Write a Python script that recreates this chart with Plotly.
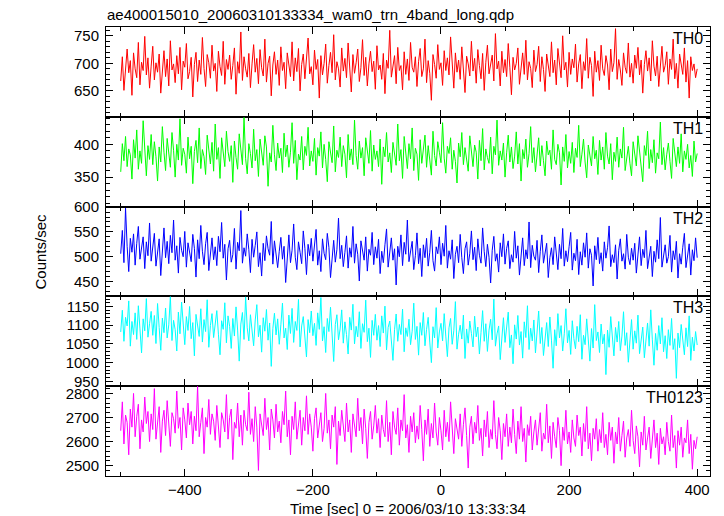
import plotly.graph_objects as go
from plotly.subplots import make_subplots

T0 = -500
DT = 2.5

th0 = [668, 712, 651, 697, 726, 683, 705, 642, 719, 690, 674, 738, 661, 702, 687, 749, 679, 710, 655, 695,
       731, 670, 701, 684, 717, 646, 692, 723, 676, 708, 659, 741, 688, 699, 665, 714, 681, 729, 652, 704,
       693, 736, 672, 685, 711, 639, 698, 720, 667, 706, 680, 747, 691, 658, 716, 701, 673, 733, 686, 700,
       649, 722, 694, 678, 740, 662, 707, 689, 715, 671, 696, 728, 644, 703, 682, 757, 669, 712, 690, 675,
       718, 656, 699, 734, 684, 709, 663, 725, 692, 677, 744, 666, 700, 713, 641, 697, 721, 680, 706, 660,
       730, 687, 702, 654, 719, 693, 676, 739, 668, 710, 685, 727, 650, 698, 717, 672, 705, 746, 681, 694,
       661, 724, 689, 707, 637, 714, 679, 700, 735, 664, 696, 720, 683, 752, 670, 703, 690, 657, 728, 686,
       709, 674, 737, 695, 648, 716, 682, 701, 726, 667, 692, 743, 678, 711, 659, 699, 722, 685, 704, 653,
       732, 688, 697, 671, 718, 645, 706, 691, 760, 675, 700, 714, 663, 729, 687, 696, 652, 721, 680, 708,
       669, 738, 693, 684, 712, 658, 703, 727, 676, 690, 744, 665, 705, 682, 633, 716, 698, 673, 734, 689,
       701, 660, 723, 687, 710, 679, 748, 694, 655, 719, 684, 706, 671, 730, 692, 647, 713, 699, 677, 740,
       686, 709, 664, 725, 696, 672, 718, 651, 702, 733, 681, 697, 715, 668, 754, 690, 704, 659, 722, 683,
       707, 676, 736, 693, 643, 711, 688, 700, 728, 662, 695, 719, 680, 742, 670, 703, 691, 656, 724, 685,
       698, 731, 667, 712, 689, 649, 717, 694, 676, 739, 683, 706, 661, 727, 697, 674, 750, 688, 702, 657,
       720, 680, 708, 692, 735, 666, 699, 716, 654, 703, 687, 745, 673, 711, 696, 640, 722, 684, 705, 669,
       733, 690, 678, 714, 697, 652, 726, 685, 701, 763, 671, 707, 688, 660, 719, 693, 682, 737, 675, 700,
       664, 715, 691, 729, 679, 706, 646, 698, 723, 686, 710, 668, 741, 695, 677, 713, 658, 702, 731, 684,
       696, 721, 662, 708, 689, 744, 672, 700, 655, 717, 693, 680, 728, 666, 705, 637, 712, 687, 699, 674,
       690]

th1 = [358, 401, 375, 412, 366, 393, 384, 347, 407, 379, 422, 362, 390, 371, 436, 386, 352, 398, 377, 415,
       369, 404, 381, 344, 396, 373, 427, 388, 360, 409, 383, 365, 418, 391, 350, 400, 376, 439, 368, 394,
       385, 356, 411, 378, 397, 340, 389, 406, 372, 425, 363, 392, 381, 354, 414, 387, 370, 403, 359, 431,
       377, 395, 348, 410, 383, 366, 420, 389, 374, 398, 342, 405, 380, 362, 416, 393, 369, 441, 378, 355,
       401, 386, 364, 423, 375, 392, 351, 408, 382, 368, 413, 396, 336, 387, 373, 429, 384, 360, 402, 379,
       394, 357, 417, 381, 399, 365, 388, 433, 371, 406, 346, 385, 376, 412, 361, 397, 383, 426, 367, 390,
       374, 409, 353, 395, 382, 419, 364, 400, 377, 343, 404, 388, 372, 428, 358, 391, 380, 411, 366, 398,
       385, 349, 415, 376, 393, 369, 437, 383, 362, 405, 379, 395, 352, 410, 386, 371, 421, 359, 399, 377,
       390, 366, 408, 339, 396, 381, 418, 373, 387, 357, 403, 384, 368, 431, 375, 392, 348, 412, 380, 363,
       401, 378, 425, 360, 394, 385, 345, 407, 371, 389, 414, 365, 398, 376, 353, 420, 383, 367, 404, 388,
       372, 433, 379, 356, 397, 386, 410, 362, 391, 374, 341, 402, 381, 418, 369, 395, 377, 359, 413, 384,
       366, 399, 388, 347, 406, 375, 424, 361, 393, 380, 371, 411, 355, 397, 384, 437, 368, 390, 376, 402,
       350, 387, 414, 373, 396, 363, 382, 419, 370, 401, 344, 392, 378, 408, 365, 386, 427, 372, 395, 358,
       381, 410, 367, 398, 375, 352, 405, 384, 391, 362, 422, 377, 369, 400, 387, 338, 396, 374, 415, 364,
       389, 371, 403, 357, 394, 380, 429, 366, 385, 408, 373, 349, 399, 383, 367, 412, 378, 391, 354, 406,
       376, 396, 362, 418, 382, 370, 401, 346, 388, 374, 411, 365, 393, 379, 426, 360, 384, 397, 371, 352,
       404, 380, 367, 413, 389, 375, 343, 398, 383, 420, 363, 392, 372, 407, 356, 387, 378, 434, 369, 395,
       361, 385, 402, 374, 348, 409, 381, 366, 396, 371, 416, 358, 390, 377, 400, 364, 383, 351, 405, 373,
       386]

th2 = [506, 553, 488, 598, 521, 470, 537, 509, 546, 483, 527, 561, 495, 515, 540, 476, 530, 502, 568, 491,
       524, 547, 481, 512, 536, 462, 519, 558, 498, 531, 486, 543, 508, 574, 493, 522, 467, 539, 513, 500,
       551, 479, 528, 505, 490, 545, 517, 459, 534, 496, 563, 511, 484, 526, 549, 472, 507, 538, 494, 520,
       482, 541, 510, 569, 497, 525, 453, 516, 533, 489, 504, 557, 475, 529, 512, 593, 487, 518, 501, 546,
       514, 468, 535, 499, 523, 550, 480, 508, 461, 527, 492, 542, 516, 503, 571, 485, 532, 497, 478, 511,
       539, 495, 521, 448, 506, 544, 488, 513, 566, 499, 474, 530, 509, 486, 552, 517, 464, 525, 502, 537,
       491, 528, 555, 483, 512, 470, 536, 507, 494, 547, 519, 458, 504, 533, 489, 514, 578, 496, 523, 480,
       509, 542, 477, 518, 499, 561, 487, 526, 505, 451, 532, 512, 493, 540, 471, 515, 503, 549, 484, 520,
       497, 535, 466, 511, 488, 524, 556, 479, 507, 538, 493, 516, 443, 521, 500, 544, 482, 529, 505, 574,
       490, 513, 531, 474, 502, 548, 486, 517, 460, 524, 498, 537, 481, 509, 553, 492, 471, 520, 506, 540,
       484, 527, 501, 563, 477, 512, 495, 534, 456, 505, 521, 488, 545, 498, 466, 516, 530, 483, 507, 552,
       494, 519, 472, 536, 503, 487, 558, 510, 480, 525, 499, 447, 513, 541, 491, 506, 469, 528, 500, 546,
       485, 517, 532, 476, 504, 489, 551, 497, 522, 463, 509, 538, 482, 514, 496, 570, 478, 523, 501, 493,
       533, 468, 511, 544, 487, 505, 527, 458, 498, 518, 484, 540, 502, 474, 525, 496, 557, 481, 512, 490,
       520, 549, 473, 507, 492, 535, 464, 510, 483, 528, 499, 548, 477, 516, 503, 441, 522, 494, 539, 486,
       508, 471, 530, 497, 518, 562, 480, 504, 488, 524, 455, 513, 536, 491, 506, 475, 545, 499, 484, 517,
       493, 527, 467, 509, 540, 482, 515, 498, 553, 476, 503, 521, 460, 511, 489, 534, 496, 579, 479, 505,
       524, 487, 500, 543, 469, 512, 494, 531, 457, 506, 485, 519, 547, 478, 501, 526, 463, 514, 492, 538,
       498]

th3 = [1082, 1140, 1057, 1121, 1098, 1165, 1044, 1110, 1075, 1133, 1062, 1152, 1090, 1026, 1117, 1085, 1171, 1068, 1104, 1137,
       1073, 1126, 1051, 1158, 1094, 1033, 1119, 1080, 1146, 1066, 1101, 1177, 1059, 1113, 1088, 1031, 1135, 1077, 1162, 1096,
       1048, 1123, 1086, 1150, 1064, 1107, 1018, 1129, 1092, 1070, 1144, 1055, 1115, 1083, 1168, 1041, 1099, 1131, 1067, 1108,
       1139, 1076, 1021, 1112, 1089, 1160, 1053, 1125, 1097, 1038, 1118, 1071, 1149, 1087, 1004, 1103, 1134, 1062, 1176, 1093,
       1058, 1128, 1081, 1045, 1114, 1155, 1069, 1100, 1028, 1120, 1084, 1142, 1060, 1106, 990, 1091, 1132, 1074, 1117, 1049,
       1101, 1159, 1066, 1092, 1035, 1127, 1078, 1145, 1054, 1110, 1086, 1169, 1042, 1098, 1123, 1063, 1015, 1115, 1080, 1138,
       1072, 1105, 1046, 1133, 1089, 1174, 1058, 1096, 1027, 1118, 1083, 1148, 1067, 1003, 1102, 1128, 1061, 1090, 1141, 1052,
       1109, 1075, 1023, 1121, 1087, 1156, 1050, 1097, 1069, 1136, 1038, 1104, 1081, 1167, 1056, 1092, 1014, 1113, 1073, 1129,
       1060, 1099, 1043, 1125, 1079, 1151, 1034, 1094, 1111, 1065, 1006, 1088, 1130, 1057, 1102, 1075, 1143, 1029, 1093, 1070,
       1116, 1048, 1084, 1159, 1062, 1097, 1020, 1107, 1073, 1134, 1045, 1089, 1121, 1055, 1000, 1096, 1066, 1147, 1039, 1082,
       1105, 1058, 1131, 1071, 1016, 1093, 1118, 1049, 1085, 1163, 1036, 1076, 1100, 1063, 1127, 1011, 1090, 1052, 1111, 1078,
       1042, 1124, 1069, 1095, 1023, 1081, 1139, 1057, 1104, 1030, 1087, 1116, 1061, 1170, 1044, 1077, 1098, 1008, 1068, 1120,
       1054, 1089, 1135, 1040, 1074, 997, 1101, 1063, 1126, 1047, 1083, 1012, 1109, 1067, 1152, 1035, 1092, 1058, 1114, 1026,
       1079, 1138, 1051, 1094, 1019, 1070, 1107, 1043, 1122, 1060, 985, 1088, 1045, 1131, 1066, 1099, 1031, 1077, 1144, 1053,
       1086, 1022, 1112, 1064, 1037, 1097, 1056, 1128, 1009, 1073, 1048, 1117, 1065, 1004, 1091, 1039, 1155, 1059, 1082, 1027,
       1103, 1050, 1076, 968, 1087, 1041, 1123, 1062, 1018, 1094, 1055, 1110, 1032, 1071, 1136, 1046, 1080, 1001, 1067, 1115,
       1036, 1085, 1052, 1127, 1024, 1069, 1095, 1013, 1058, 1106, 1044, 1141, 1061, 993, 1078, 1033, 1099, 1050, 1120, 1029,
       1072, 1011, 1088, 1046, 1118, 1035, 1064, 958, 1079, 1040, 1102, 1057, 1021, 1093, 1043, 1125, 1006, 1068, 1031, 1083,
       1047]

th0123 = [2645, 2765, 2590, 2710, 2680, 2545, 2735, 2660, 2800, 2620, 2705, 2755, 2570, 2690, 2640, 2785, 2675, 2725, 2600, 2715,
          2650, 2820, 2610, 2695, 2745, 2555, 2685, 2730, 2625, 2770, 2665, 2580, 2720, 2695, 2635, 2810, 2655, 2700, 2565, 2740,
          2690, 2615, 2760, 2670, 2725, 2590, 2705, 2645, 2830, 2620, 2680, 2740, 2550, 2700, 2660, 2775, 2630, 2715, 2685, 2605,
          2750, 2665, 2575, 2720, 2690, 2640, 2795, 2610, 2700, 2735, 2525, 2680, 2655, 2760, 2620, 2710, 2585, 2730, 2670, 2645,
          2805, 2630, 2695, 2600, 2745, 2660, 2480, 2715, 2675, 2625, 2780, 2650, 2700, 2565, 2735, 2690, 2615, 2755, 2640, 2685,
          2595, 2725, 2670, 2810, 2620, 2690, 2545, 2705, 2650, 2765, 2610, 2680, 2730, 2585, 2700, 2645, 2790, 2630, 2715, 2660,
          2560, 2695, 2740, 2615, 2675, 2720, 2600, 2655, 2800, 2635, 2690, 2570, 2710, 2660, 2745, 2505, 2685, 2625, 2730, 2650,
          2600, 2760, 2640, 2690, 2555, 2715, 2670, 2620, 2780, 2645, 2700, 2590, 2735, 2655, 2530, 2680, 2725, 2610, 2665, 2750,
          2635, 2695, 2575, 2710, 2650, 2620, 2770, 2600, 2680, 2545, 2725, 2660, 2630, 2740, 2585, 2690, 2645, 2795, 2615, 2670,
          2555, 2705, 2640, 2720, 2595, 2665, 2610, 2750, 2650, 2520, 2690, 2630, 2735, 2580, 2675, 2615, 2760, 2640, 2585, 2700,
          2645, 2565, 2730, 2620, 2680, 2600, 2765, 2635, 2550, 2695, 2655, 2610, 2715, 2580, 2670, 2740, 2625, 2490, 2660, 2705,
          2590, 2680, 2635, 2750, 2605, 2655, 2540, 2690, 2620, 2725, 2575, 2650, 2610, 2770, 2630, 2570, 2700, 2645, 2525, 2675,
          2620, 2715, 2580, 2660, 2595, 2735, 2630, 2550, 2685, 2610, 2745, 2600, 2655, 2515, 2670, 2625, 2705, 2565, 2640, 2690,
          2585, 2650, 2720, 2560, 2635, 2610, 2755, 2595, 2665, 2530, 2680, 2620, 2575, 2700, 2645, 2500, 2660, 2605, 2730, 2590,
          2640, 2555, 2690, 2615, 2580, 2710, 2625, 2660, 2540, 2675, 2600, 2745, 2570, 2635, 2520, 2655, 2610, 2695, 2560, 2650,
          2595, 2720, 2575, 2630, 2545, 2680, 2605, 2660, 2510, 2640, 2590, 2700, 2560, 2625, 2685, 2535, 2615, 2650, 2580, 2730,
          2605, 2550, 2665, 2620, 2495, 2640, 2585, 2705, 2565, 2615, 2660, 2530, 2600, 2690, 2575, 2635, 2505, 2655, 2590, 2620,
          2545, 2680, 2600, 2560, 2710, 2575, 2625, 2490, 2645, 2585, 2660, 2535, 2615, 2595, 2690, 2550, 2630, 2485, 2605, 2570,
          2620]

series = [th0, th1, th2, th3, th0123]
names = ["TH0", "TH1", "TH2", "TH3", "TH0123"]
colors = ["#ff0000", "#00ff00", "#0000ff", "#00ffff", "#ff00ff"]
yranges = [[603, 766], [305, 442], [420, 601], [937, 1177], [2457, 2830]]
ymajor = [50, 50, 50, 50, 100]
yminor = [10, 10, 10, 10, 20]

title = "ae400015010_20060310133334_wam0_trn_4band_long.qdp"
xtitle = "Time [sec] 0 = 2006/03/10 13:33:34"
ytitle = "Counts/sec"

FONT = "Liberation Sans, Arial, Helvetica, sans-serif"

fig = make_subplots(rows=5, cols=1, shared_xaxes=True, vertical_spacing=0)

for i, (vals, nm, col) in enumerate(zip(series, names, colors)):
    xs = [T0 + DT * k for k in range(len(vals))]
    fig.add_trace(go.Scatter(x=xs, y=vals, mode="lines", name=nm,
                             line=dict(color=col, width=1), showlegend=False), row=i + 1, col=1)
    fig.update_yaxes(range=yranges[i], dtick=ymajor[i], tick0=0,
                     showline=True, linecolor="black", linewidth=1, mirror="allticks",
                     ticks="inside", ticklen=7, tickwidth=1, tickcolor="black",
                     minor=dict(dtick=yminor[i], ticks="inside", ticklen=4, tickcolor="black", showgrid=False),
                     showgrid=False, zeroline=False, ticklabelstandoff=3,
                     tickfont=dict(family=FONT, size=15, color="black"),
                     row=i + 1, col=1)
    fig.update_xaxes(range=[-523, 420], dtick=200, tick0=0,
                     showline=True, linecolor="black", linewidth=1, mirror="allticks",
                     ticks="inside", ticklen=7, tickwidth=1, tickcolor="black",
                     minor=dict(dtick=100, ticks="inside", ticklen=4, tickcolor="black", showgrid=False),
                     showgrid=False, zeroline=False,
                     tickfont=dict(family=FONT, size=15, color="black"),
                     row=i + 1, col=1)

for i, nm in enumerate(names):
    ax = "y" if i == 0 else f"y{i+1}"
    fig.add_annotation(text=nm, xref="paper", x=0.992, xanchor="right",
                       yref=f"{ax} domain", y=1, yanchor="top", yshift=-1,
                       showarrow=False, font=dict(family=FONT, size=16, color="black"))

fig.add_annotation(text=title, xref="paper", x=0, xanchor="left", xshift=-1,
                   yref="paper", y=1, yanchor="bottom", yshift=2,
                   showarrow=False, font=dict(family=FONT, size=15, color="black"))
fig.add_annotation(text=xtitle, xref="paper", x=0.5, xanchor="center",
                   yref="paper", y=0, yanchor="top", yshift=-22,
                   showarrow=False, font=dict(family=FONT, size=15, color="black"))
fig.add_annotation(text=ytitle, xref="paper", x=0, xanchor="center", xshift=-66,
                   yref="paper", y=0.5, yanchor="middle", textangle=-90,
                   showarrow=False, font=dict(family=FONT, size=15, color="black"))

fig.update_layout(width=716, height=508, margin=dict(l=98, r=14, t=19, b=40),
                  paper_bgcolor="white", plot_bgcolor="white",
                  font=dict(family=FONT, size=15, color="black"))

fig.write_html("out.html")
